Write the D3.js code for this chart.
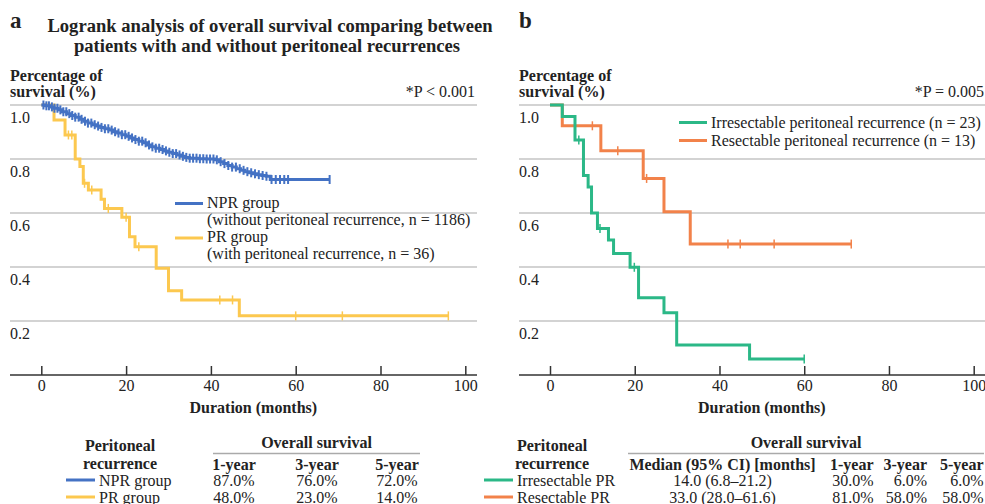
<!DOCTYPE html>
<html>
<head>
<meta charset="utf-8">
<script src="https://cdn.jsdelivr.net/npm/d3@7"></script>
<style>
  html, body { margin: 0; padding: 0; background: #fff; }
  svg text { font-family: "Liberation Serif", "Times New Roman", serif; fill: #222; }
</style>
</head>
<body>
<div id="graph"></div>
<script>
// values: [month, survival]
var nprSteps = [[0,1.0],[1,0.997],[2,0.993],[3,0.988],[4,0.982],[5,0.975],[6,0.968],[7,0.961],[8,0.955],[9,0.947],
  [10,0.94],[11,0.933],[12,0.927],[13,0.922],[14,0.917],[15,0.912],[16,0.907],[17,0.901],[18,0.896],[19,0.89],
  [20,0.884],[21,0.878],[22,0.872],[23,0.866],[24,0.86],[25,0.852],[26,0.845],[27,0.84],[28,0.835],[29,0.83],
  [30,0.825],[31,0.82],[32,0.815],[33,0.81],[34,0.806],[35,0.803],[37,0.801],[39,0.8],[41,0.797],[42,0.79],
  [43,0.783],[44,0.776],[45,0.77],[46,0.764],[47,0.758],[48,0.753],[49,0.749],[50,0.745],[51,0.742],[52,0.739],
  [53,0.736],[54,0.724],[68,0.724]]
var nprCensor = [0.5,1.2,1.8,2.5,3.1,3.8,4.5,5.2,5.9,6.6,7.3,8,8.8,9.5,10.3,11,11.8,12.6,13.4,14.2,15,15.8,16.6,
  17.4,18.2,19,19.8,20.6,21.4,22.2,23,23.8,24.6,25.4,26.2,27,27.8,28.6,29.4,30.2,31,31.8,32.6,33.4,34.2,35,35.8,
  36.6,37.4,38.2,39,39.8,40.6,41.4,42.3,43.2,44.1,45,45.9,46.8,47.7,48.6,49.5,50.4,51.3,52.2,53.1,54.3,55.3,
  56.3,57.3,58.2,68]

var prSteps = [[0,1.0],[3.0,0.944],[5.6,0.889],[8.0,0.8],[9.1,0.772],[9.9,0.71],[11.1,0.685],[14.1,0.651],
  [14.9,0.617],[19.0,0.584],[20.8,0.512],[22.1,0.475],[27.1,0.395],[30.0,0.312],[33.1,0.278],[46.7,0.219],[96,0.219]]
var prCensor = [6.4,7.2,10.2,11.9,15.8,20.0,23.0,42.1,45.1,60,71,96]

var irrSteps = [[0,1.0],[2.9,0.957],[5.9,0.87],[7.9,0.739],[9.0,0.696],[9.8,0.6],[11.2,0.543],[13.8,0.5],
  [15.0,0.45],[18.9,0.399],[20.9,0.286],[26.9,0.231],[29.9,0.111],[47.1,0.059],[60,0.059]]
var irrCensor = [6.8,11.8,19.9,60]

var resSteps = [[0,1.0],[2.9,0.923],[12.0,0.831],[22.0,0.728],[26.9,0.605],[33.1,0.485],[71.1,0.485]]
var resCensor = [10.0,16.0,22.8,42.0,44.9,52.9,71.1]

var yTicks = [0.2,0.4,0.6,0.8,1.0]
var xTicks = [0,20,40,60,80,100]

var tableAHead = ["1-year","3-year","5-year"]
var tableARows = [
  {name: "NPR group", vals: ["87.0%","76.0%","72.0%"]},
  {name: "PR group",  vals: ["48.0%","23.0%","14.0%"]}
]
var tableBHead = ["Median (95% CI) [months]","1-year","3-year","5-year"]
var tableBRows = [
  {name: "Irresectable PR", vals: ["14.0 (6.8\u201321.2)","30.0%","6.0%","6.0%"]},
  {name: "Resectable PR",   vals: ["33.0 (28.0\u201361.6)","81.0%","58.0%","58.0%"]}
]

var blue = "#4472c4", yellow = "#fcc84f", green = "#2bb887", orange = "#f2824a"
var grid = "#c4c4c4"

var svg = d3.select('#graph').append('svg')
  .attr('width', 985).attr('height', 504)
  .style('display', 'block')

svg.append('rect').attr('width', 985).attr('height', 504).attr('fill', '#fff')

function survAt(steps, t) {
  var s = steps[0][1]
  steps.forEach(d => { if (d[0] <= t) s = d[1] })
  return s
}

/*
  one KM panel
*/
function panel(o) {
  var g = svg.append('g')
  var x = d3.scaleLinear().domain([0,100]).range(o.xr)
  var y = d3.scaleLinear().domain([0,1]).range([375,105])

  // grid + y labels
  g.selectAll('line.grid').data(yTicks).enter().append('line')
    .attr('x1', o.left).attr('x2', o.right)
    .attr('y1', d => y(d)).attr('y2', d => y(d))
    .attr('stroke', grid).attr('stroke-width', 1.5)
  g.selectAll('text.ylab').data(yTicks).enter().append('text')
    .attr('x', o.left).attr('y', d => y(d) + 17.5)
    .attr('font-size', '16px')
    .text(d => d.toFixed(1))

  // x axis, ticks pointing up
  var ax = g.append('g').attr('transform', 'translate(0,375)')
    .call(d3.axisBottom(x).tickValues(xTicks).tickSizeInner(-9).tickSizeOuter(0).tickPadding(5))
  ax.select('.domain').remove()
  ax.selectAll('line').attr('stroke', '#333').attr('stroke-width', 1.5)
  ax.selectAll('text').attr('font-size', '16px').attr('font-family', '"Liberation Serif", serif').attr('fill', '#222')
  g.append('line').attr('x1', o.left).attr('x2', o.right).attr('y1', 375).attr('y2', 375)
    .attr('stroke', '#333').attr('stroke-width', 1.5)

  g.append('text').attr('x', (x(0) + x(100)) / 2).attr('y', 413)
    .attr('text-anchor', 'middle').attr('font-size', '16px').attr('font-weight', 'bold')
    .text('Duration (months)')

  g.append('text').attr('x', o.left).attr('y', 81).attr('font-size', '16px').attr('font-weight', 'bold').text('Percentage of')
  g.append('text').attr('x', o.left).attr('y', 97).attr('font-size', '16px').attr('font-weight', 'bold').text('survival (%)')
  g.append('text').attr('x', o.pRight).attr('y', 97).attr('font-size', '16px').attr('text-anchor', 'end').text(o.pText)

  var line = d3.line().curve(d3.curveStepAfter).x(d => x(d[0])).y(d => y(d[1]))

  o.curves.forEach(c => {
    g.append('path').datum(c.steps)
      .attr('d', line).attr('fill', 'none')
      .attr('stroke', c.color).attr('stroke-width', 3)
    g.selectAll(null).data(c.censor).enter().append('line')
      .attr('x1', d => x(d)).attr('x2', d => x(d))
      .attr('y1', d => y(survAt(c.steps, d)) - 4.5)
      .attr('y2', d => y(survAt(c.steps, d)) + 4.5)
      .attr('stroke', c.color).attr('stroke-width', c.tickW || 1.5)
  })

  // legend
  o.legend.forEach(l => {
    if (l.color) g.append('line').attr('x1', l.x0).attr('x2', l.x0 + 28).attr('y1', l.ly).attr('y2', l.ly)
      .attr('stroke', l.color).attr('stroke-width', 3)
    g.append('text').attr('x', l.x0 + 32).attr('y', l.y).attr('font-size', '16px').text(l.text)
  })
  return g
}

panel({
  xr: [41.3, 465.3], left: 10, right: 477, pRight: 475, pText: '*P < 0.001',
  curves: [
    {steps: prSteps, censor: prCensor, color: yellow},
    {steps: nprSteps, censor: nprCensor, color: blue, tickW: 2}
  ],
  legend: [
    {x0: 175, ly: 203.5, y: 208, color: blue, text: 'NPR group'},
    {x0: 175, y: 224.5, text: '(without peritoneal recurrence, n = 1186)'},
    {x0: 175, ly: 238, y: 241.5, color: yellow, text: 'PR group'},
    {x0: 175, y: 258.5, text: '(with peritoneal recurrence, n = 36)'}
  ]
})

panel({
  xr: [550, 973.7], left: 519, right: 985, pRight: 984, pText: '*P = 0.005',
  curves: [
    {steps: resSteps, censor: resCensor, color: orange},
    {steps: irrSteps, censor: irrCensor, color: green}
  ],
  legend: [
    {x0: 679, ly: 122.5, y: 127.5, color: green, text: 'Irresectable peritoneal recurrence (n = 23)'},
    {x0: 679, ly: 140.5, y: 145.5, color: orange, text: 'Resectable peritoneal recurrence (n = 13)'}
  ]
})

// titles
svg.append('text').attr('x', 10).attr('y', 28).attr('font-size', '23px').attr('font-weight', 'bold').text('a')
svg.append('text').attr('x', 519).attr('y', 28).attr('font-size', '23px').attr('font-weight', 'bold').text('b')
svg.append('text').attr('x', 270).attr('y', 32).attr('text-anchor', 'middle').attr('font-size', '18.6px').attr('font-weight', 'bold')
  .text('Logrank analysis of overall survival comparing between')
svg.append('text').attr('x', 267).attr('y', 52).attr('text-anchor', 'middle').attr('font-size', '18.6px').attr('font-weight', 'bold')
  .text('patients with and without peritoneal recurrences')

/*
  tables under the charts
*/
function table(o) {
  var g = svg.append('g').attr('font-size', '16px')
  g.append('text').attr('x', o.labX).attr('y', 451).attr('text-anchor', 'middle').attr('font-weight', 'bold').text('Peritoneal')
  g.append('text').attr('x', o.labX).attr('y', 469).attr('text-anchor', 'middle').attr('font-weight', 'bold').text('recurrence')
  g.append('text').attr('x', (o.ul[0] + o.ul[1]) / 2).attr('y', 448).attr('text-anchor', 'middle').attr('font-weight', 'bold').text('Overall survival')
  g.append('line').attr('x1', o.ul[0]).attr('x2', o.ul[1]).attr('y1', 453.5).attr('y2', 453.5).attr('stroke', '#aaa').attr('stroke-width', 1.5)
  o.head.forEach((h, i) => {
    g.append('text').attr('x', o.colX[i]).attr('y', 470).attr('text-anchor', o.anchor[i]).attr('font-weight', 'bold').text(h)
  })
  o.rows.forEach((r, j) => {
    var yb = 485.5 + j * 17
    g.append('line').attr('x1', o.lineX).attr('x2', o.lineX + 29).attr('y1', yb - 5.5).attr('y2', yb - 5.5)
      .attr('stroke', o.colors[j]).attr('stroke-width', 3)
    g.append('text').attr('x', o.lineX + 33).attr('y', yb).text(r.name)
    r.vals.forEach((v, i) => {
      g.append('text').attr('x', o.colX[i]).attr('y', yb).attr('text-anchor', o.anchor[i]).text(v)
    })
  })
}

table({
  labX: 120, ul: [213, 420], lineX: 66, colors: [blue, yellow],
  head: tableAHead, rows: tableARows,
  colX: [234, 317, 397], anchor: ['middle', 'middle', 'middle']
})
table({
  labX: 552, ul: [628, 984], lineX: 484, colors: [green, orange],
  head: tableBHead, rows: tableBRows,
  colX: [722.5, 873.5, 927, 983.5], anchor: ['middle', 'end', 'end', 'end']
})
</script>
</body>
</html>
